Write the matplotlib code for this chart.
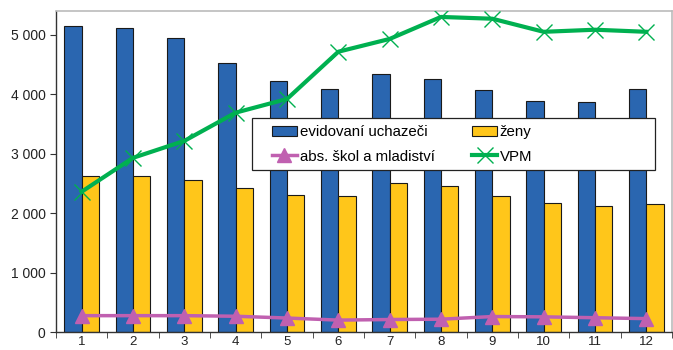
import matplotlib
matplotlib.use("Agg")
import matplotlib.pyplot as plt
import numpy as np
from matplotlib.ticker import FixedLocator, FuncFormatter
from matplotlib.patches import Rectangle

months = ["1", "2", "3", "4", "5", "6", "7", "8", "9", "10", "11", "12"]
evidovani = [5150, 5120, 4950, 4530, 4225, 4090, 4340, 4260, 4075, 3890, 3870, 4090]
zeny = [2625, 2630, 2560, 2425, 2310, 2290, 2510, 2460, 2290, 2170, 2120, 2160]
absolventi = [275, 275, 275, 265, 235, 200, 210, 215, 260, 255, 240, 225]
vpm = [2360, 2930, 3215, 3690, 3920, 4715, 4930, 5300, 5270, 5050, 5085, 5050]

plt.rcParams['font.family'] = ['Liberation Sans', 'DejaVu Sans']

W, H = 673, 350
fig = plt.figure(figsize=(W / 100, H / 100), dpi=100)
ax_l, ax_r, ax_b, ax_t = 56, 672, 332, 11
ax = fig.add_axes([ax_l / W, 1 - ax_b / H, (ax_r - ax_l) / W, (ax_b - ax_t) / H])

def axc(px, py):
    return ((px - ax_l) / (ax_r - ax_l), (ax_b - py) / (ax_b - ax_t))

x = np.arange(len(months))
w = 0.34
b1 = ax.bar(x - w/2, evidovani, width=w, color="#2A66B0", edgecolor="#1a1a1a", linewidth=0.8, label="evidovaní uchazeči", zorder=2)
b2 = ax.bar(x + w/2, zeny, width=w, color="#FFC61A", edgecolor="#1a1a1a", linewidth=0.8, label="ženy", zorder=2)
l1, = ax.plot(x, absolventi, color="#C060B0", linewidth=2.5, marker="^", markersize=10, label="abs. škol a mladiství", zorder=3)
l2, = ax.plot(x, vpm, color="#00B050", linewidth=3, marker="x", markersize=12, markeredgewidth=1.0, label="VPM", zorder=3)

ax.set_xlim(-0.5, len(months) - 0.5)
ax.set_ylim(0, 5400)
ax.set_yticks([0, 1000, 2000, 3000, 4000, 5000])
ax.yaxis.set_major_formatter(FuncFormatter(lambda v, p: f"{int(v):,}".replace(",", " ")))
ax.set_xticks(x)
ax.set_xticklabels(months)
ax.xaxis.set_minor_locator(FixedLocator(np.arange(-0.5, len(months), 1.0)))
ax.tick_params(axis='x', which='major', length=0, labelsize=9.5, pad=3, labelcolor='#222222')
ax.tick_params(axis='x', which='minor', length=4, direction='out', color='#333333')
ax.tick_params(axis='y', which='major', length=4, direction='out', labelsize=10, color='#333333', labelcolor='#222222')

for s in ['top', 'right']:
    ax.spines[s].set_color('#bbbbbb')
    ax.spines[s].set_linewidth(1.2)
for s in ['left', 'bottom']:
    ax.spines[s].set_color('#333333')
    ax.spines[s].set_linewidth(1.0)

# legend frame
x0, y0 = axc(252, 170)
x1, y1 = axc(655, 118)
ax.add_patch(Rectangle((x0, y0), x1 - x0, y1 - y0, transform=ax.transAxes,
                       facecolor='white', edgecolor='#222222', linewidth=0.9, zorder=4, clip_on=False))

ax_anchor = axc(272, 125)
leg = ax.legend([b1, l1, b2, l2], ["evidovaní uchazeči", "abs. škol a mladiství", "ženy", "VPM"],
                ncol=2, loc='upper left', bbox_to_anchor=ax_anchor, borderaxespad=0,
                frameon=False, fontsize=10.8, borderpad=0,
                handlelength=1.65, handletextpad=0.2, labelspacing=0.7, columnspacing=2.5)
leg.set_zorder(5)

fig.savefig("out.png", dpi=100)
